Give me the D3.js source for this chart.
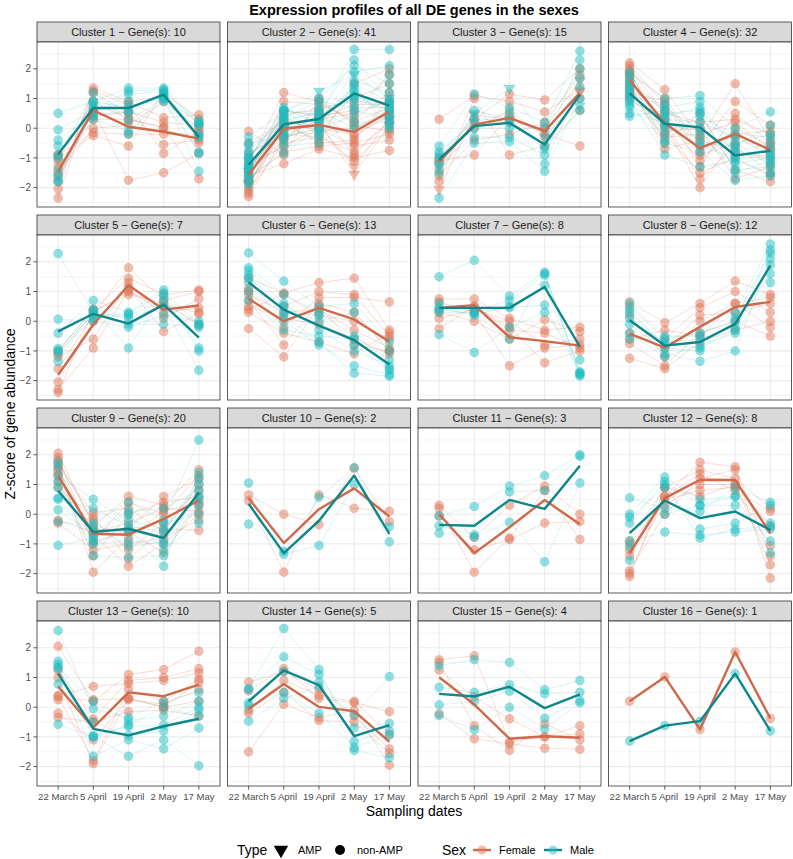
<!DOCTYPE html>
<html>
<head>
<meta charset="utf-8">
<script src="https://cdnjs.cloudflare.com/ajax/libs/d3/7.8.5/d3.min.js"></script>
<style>
  body { margin: 0; background: #fff; }
  text { font-family: "Liberation Sans", Arial, sans-serif; }
</style>
</head>
<body>
<svg id="chart" width="793" height="859"></svg>
<script>
// sampling dates (x categories)
var dates = ["22 March", "5 April", "19 April", "2 May", "17 May"];
var geneCounts = [10, 41, 15, 32, 7, 13, 8, 12, 20, 2, 3, 8, 10, 5, 4, 1];

// thick lines: mean profile per cluster
var femaleMean = [
  [-1.45, 0.6, 0.05, -0.12, -0.35],
  [-1.57, -0.02, 0.11, -0.13, 0.56],
  [-1.13, 0.12, 0.35, -0.1, 1.19],
  [1.62, 0.17, -0.67, -0.19, -0.73],
  [-1.81, -0.11, 1.21, 0.39, 0.53],
  [0.76, 0.0, 0.45, 0.06, -0.69],
  [0.45, 0.54, -0.54, -0.67, -0.82],
  [-0.42, -0.89, -0.19, 0.48, 0.65],
  [1.3, -0.66, -0.69, -0.16, 0.46],
  [0.54, -0.97, 0.17, 0.87, -0.08],
  [0.0, -1.31, -0.44, 0.48, -0.34],
  [-1.31, 0.54, 1.16, 1.15, -0.64],
  [0.7, -0.69, 0.5, 0.37, 0.76],
  [-0.06, 0.78, 0.01, -0.13, -1.17],
  [1.01, 0.09, -1.06, -0.98, -1.03],
  [0.2, 1.02, -0.75, 1.86, -0.38]
];
var maleMean = [
  [-0.88, 0.68, 0.68, 1.13, -0.3],
  [-1.23, 0.13, 0.31, 1.17, 0.76],
  [-1.05, 0.07, 0.18, -0.55, 1.13],
  [1.17, 0.15, 0.03, -0.92, -0.76],
  [-0.34, 0.25, -0.08, 0.56, -0.55],
  [1.31, 0.39, -0.15, -0.64, -1.46],
  [0.45, 0.45, 0.45, 1.15, -0.86],
  [0.03, -0.82, -0.7, -0.09, 1.88],
  [0.79, -0.6, -0.49, -0.8, 0.72],
  [0.35, -1.31, -0.22, 1.3, -0.66],
  [-0.36, -0.39, 0.48, 0.18, 1.63],
  [-0.64, 0.46, -0.13, 0.09, -0.53],
  [1.13, -0.73, -0.95, -0.64, -0.39],
  [0.2, 1.24, 0.74, -0.97, -0.6],
  [0.45, 0.36, 0.69, -0.03, 0.43],
  [-1.14, -0.62, -0.47, 1.13, -0.8]
];

// thin lines: gene profiles per cluster
var femaleGenes = [
  [[-2.35,1.2,0.5,-0.55,-0.4],[-2.05,1.35,0.9,0.35,0.45],[-1.6,0.6,-1.75,-1.5,-0.85],[-1.3,0.3,0.3,0.0,-0.5],
   [-1.1,0.9,0.3,0.05,-1.7],[-1.0,-0.25,-0.6,1.2,0.3],[-0.9,0.4,0.55,0.2,0.1],[-1.8,1.25,0.8,-0.85,-0.1],
   [-1.5,0.0,0.1,0.9,0.0],[-0.9,-0.15,-0.2,-0.2,-0.2]],
  [[-2.3,-0.3,0.0,-0.2,0.4],[-2.2,0.2,0.3,0.5,0.9],[-2.1,-0.5,-0.3,-0.8,0.2],[-2.0,0.5,0.6,1.0,1.5],
   [-1.9,-0.1,0.1,-1.3,0.3],[-1.85,0.0,0.2,-1.55,0.1],[-1.8,0.9,0.8,0.3,1.2],[-1.7,-0.8,-0.6,-0.5,-0.2],
   [-1.65,0.3,-0.1,0.0,0.6],[-1.6,-1.2,-0.7,-1.0,-0.75],[-1.5,0.6,0.4,0.6,1.8],[-1.45,-0.4,0.5,-0.3,0.5],
   [-1.4,0.1,-0.4,1.5,2.0],[-1.3,-0.6,0.0,-0.6,-0.4],[-1.2,1.2,0.9,0.2,0.7],[-1.0,0.4,-0.2,-1.1,0.0],
   [-0.8,-0.3,0.3,0.8,0.8],[-0.5,0.2,-0.5,-0.4,1.0],[-0.1,-0.9,1.0,0.1,-0.1],[-1.1,-0.2,0.6,-0.9,0.3]],
  [[0.3,1.1,0.9,0.55,1.3],[-1.0,0.3,1.15,0.95,2.0],[-1.2,0.2,0.2,0.0,1.6],[-1.4,0.0,0.6,-0.3,1.0],
   [-1.6,-0.4,-0.2,0.2,1.8],[-1.8,1.0,-0.9,-0.6,0.6],[-2.05,0.45,0.3,-0.1,1.25],[-1.1,-0.9,0.4,-0.2,-0.6]],
  [[2.2,1.3,-0.3,1.5,-0.4],[2.1,0.8,-0.9,-0.5,-1.2],[2.0,0.5,0.2,0.3,-0.2],[1.9,-0.2,-1.5,-1.0,-1.6],
   [1.85,1.0,-0.6,0.9,0.1],[1.8,0.1,-2.0,-0.3,-0.9],[1.7,-0.5,0.5,-1.4,-1.8],[1.6,0.3,-1.1,0.0,-0.6],
   [1.5,-0.7,-0.4,-0.8,-1.0],[1.4,0.6,-1.3,0.5,-0.5],[1.3,-0.1,0.0,-1.7,-1.3],[1.2,0.9,-0.8,-0.2,-0.1],
   [1.1,-0.3,-0.2,0.2,-0.7],[1.0,0.2,-1.7,-0.6,-1.5]],
  [[-1.0,0.4,1.45,0.9,1.05],[-1.1,0.3,1.0,0.5,0.3],[-1.2,-0.6,1.3,0.1,0.75],[-1.6,0.2,1.8,0.7,1.0],
   [-2.05,0.0,1.15,-0.35,0.25],[-2.3,-0.9,1.05,0.3,0.45],[-2.4,0.35,0.9,0.6,-0.1]],
  [[1.45,0.95,1.3,1.45,-0.3],[1.1,0.5,1.0,0.9,-0.5],[1.0,-0.2,0.8,0.8,0.65],[0.9,0.3,0.4,-0.3,-0.9],
   [0.7,-0.8,0.6,0.3,-1.0],[0.5,0.1,-0.1,-0.6,-1.1],[0.4,0.9,0.2,0.0,-0.6],[0.3,-0.4,-0.7,-1.1,-0.4],
   [-0.25,-1.2,0.5,-0.8,-1.0]],
  [[0.75,0.75,0.1,-0.3,-0.2],[0.65,0.3,-1.5,-0.9,-0.8],[0.4,0.5,-0.2,-1.4,-1.0],[0.3,0.0,-0.6,0.05,-0.35],
   [0.1,0.4,0.0,-0.8,-0.6],[-0.25,0.5,-0.3,-0.4,-0.9]],
  [[0.65,-0.05,0.6,1.35,0.9],[0.5,-0.6,0.45,1.0,0.3],[0.2,-1.2,0.0,0.6,0.8],[-0.4,-0.9,0.2,0.3,0.6],
   [-0.75,-1.5,-0.4,0.0,-0.5],[-1.25,-1.6,-0.7,-0.3,0.0],[-0.6,-0.3,-0.5,0.6,-0.2]],
  [[2.05,-0.4,0.6,0.3,1.5],[1.9,-1.0,-0.5,0.6,1.2],[1.8,-0.2,-1.2,-0.3,0.8],[1.7,-1.95,-0.8,0.1,0.4],
   [1.6,0.05,0.2,-0.6,1.0],[1.5,-0.7,-1.75,-1.0,0.0],[1.4,-1.4,0.0,0.4,0.6],[1.3,-0.5,-0.6,-1.3,0.3],
   [1.1,-0.9,0.4,0.0,1.3],[0.9,-0.1,-1.5,-0.5,-0.55],[-0.2,-0.6,-0.3,0.2,0.1],[-0.3,-1.2,-1.0,-0.8,-0.2]],
  [[0.65,0.0,-0.35,1.55,-0.25],[0.45,-1.95,0.65,0.2,0.1]],
  [[0.3,-0.78,0.3,0.95,0.0],[0.2,-1.95,-0.8,0.8,-0.85],[-0.05,-1.2,-0.85,-0.3,-0.25]],
  [[-0.9,0.9,1.5,1.2,0.2],[-1.0,0.5,0.8,0.9,-1.05],[-1.2,0.6,1.75,1.6,-1.4],[-1.4,0.3,1.0,1.0,-0.4],
   [-1.9,0.0,1.2,1.5,-2.15],[-2.0,0.6,1.35,0.8,0.1],[-2.1,0.9,0.6,1.0,-1.7]],
  [[2.05,0.2,1.1,1.27,1.88],[1.25,-0.4,0.9,1.0,1.3],[0.4,0.7,0.8,0.9,1.15],[0.35,-1.8,0.6,0.2,0.95],
   [0.25,0.25,0.3,0.0,0.85],[-0.2,-1.1,0.25,0.1,0.6],[-0.35,-0.5,-0.15,-0.1,-0.3],[1.0,-1.9,0.3,0.0,0.2]],
  [[0.85,1.2,0.6,-0.3,-1.4],[0.55,1.3,0.3,0.15,-0.15],[-0.2,0.5,-0.45,-0.5,-1.55],[-0.1,0.9,0.4,0.2,-0.9],
   [-1.5,0.1,-0.35,-0.1,-1.95]],
  [[1.6,1.73,-1.17,-1.0,-0.62],[1.51,-0.62,-1.45,-0.56,-1.1],[1.25,0.35,-0.39,-1.0,-0.9],[-0.22,-1.06,-1.23,-1.38,-1.42]],
  [[0.2,1.02,-0.75,1.86,-0.38]]
];
var maleGenes = [
  [[0.5,0.9,1.35,1.35,0.25],[-0.05,0.6,1.25,1.3,0.15],[-0.4,0.5,1.15,1.25,0.1],[-0.6,0.4,0.6,1.2,-0.2],
   [-0.9,0.7,0.5,1.1,-0.3],[-1.0,1.2,0.25,1.0,-0.3],[-1.4,0.3,-0.1,0.9,-0.8],[-1.6,0.8,-0.2,1.15,-0.85],
   [-1.75,0.55,0.9,1.05,-1.45],[-1.8,0.9,0.7,1.0,0.2]],
  [[-1.9,0.1,0.4,2.65,2.65],[-1.8,-0.4,0.2,1.9,2.1],[-1.7,0.6,1.0,2.1,1.5],[-1.6,-0.85,0.0,1.5,0.9],
   [-1.5,0.3,0.5,1.0,0.6],[-1.45,0.5,1.25,1.8,1.0],[-1.4,-0.2,-0.3,0.6,0.3],[-1.3,0.0,0.3,1.3,0.0],
   [-1.25,0.4,0.7,0.9,0.8],[-1.2,-0.6,-0.5,0.2,0.2],[-1.1,0.7,0.1,1.6,1.2],[-1.0,0.2,0.6,0.0,0.5],
   [-0.9,-0.1,-0.2,1.2,0.4],[-0.8,0.35,0.9,0.7,0.7],[-0.6,0.1,0.3,1.4,0.1],[-0.5,-0.3,0.0,0.4,1.8],
   [-0.3,0.55,-0.1,1.1,0.6],[-1.0,0.6,0.45,2.3,0.9]],
  [[-0.6,1.15,0.7,0.2,2.6],[-0.8,0.2,0.5,-0.6,2.3],[-1.0,0.0,0.0,0.0,2.0],[-1.2,-0.3,-0.3,-0.9,1.7],
   [-1.3,0.5,1.35,-0.3,0.75],[-1.5,0.6,0.3,-1.2,1.4],[-2.35,-0.5,-0.45,-1.45,1.0],[-0.9,0.35,0.2,-0.7,0.6]],
  [[1.9,1.0,1.1,0.0,0.55],[1.75,0.5,0.6,-0.5,-0.2],[1.6,0.0,-0.3,-1.2,-1.0],[1.5,0.7,0.9,-0.8,-0.5],
   [1.4,-0.5,-0.8,-1.75,-1.6],[1.3,0.3,0.2,-0.3,-0.8],[1.2,-0.2,0.5,-1.4,-1.3],[1.1,0.8,-0.5,-0.6,0.1],
   [1.0,-0.9,-1.3,-1.1,-1.5],[0.9,0.4,0.7,-0.9,-0.7],[0.8,0.1,-0.1,-1.5,-1.1],[0.7,-0.4,0.4,-0.2,-0.3],
   [0.5,0.2,-0.6,-1.0,-0.9],[0.4,0.6,0.0,-0.7,-1.2]],
  [[2.28,0.3,0.1,0.5,-1.65],[0.07,0.0,-0.2,0.2,0.0],[-0.4,0.7,0.3,1.05,-0.9],[-0.92,0.2,0.25,0.95,-0.1],
   [-1.0,0.4,-0.9,0.85,-1.0],[-1.05,0.1,0.2,0.7,-0.15],[-1.35,0.35,-0.1,-0.1,-0.2]],
  [[2.3,1.35,0.5,0.6,-0.7],[1.8,0.9,0.3,-0.5,-1.3],[1.7,0.6,-0.3,-1.0,-1.5],[1.55,0.2,-0.7,-1.75,-1.85],
   [1.45,0.5,0.0,0.3,-1.0],[1.3,0.0,-0.8,-1.5,-1.8],[1.0,0.3,0.2,-0.8,-1.65],[0.7,-0.3,-0.5,-0.6,-1.6]],
  [[1.5,2.05,0.85,1.65,-1.7],[0.6,0.35,0.7,1.55,-1.8],[0.45,0.2,0.5,1.2,-1.85],[0.3,0.3,0.45,0.55,-1.75],
   [-0.45,-1.05,-0.2,0.3,-1.3],[0.4,0.25,-0.6,1.6,-1.75]],
  [[0.6,-0.5,-0.5,0.3,2.6],[0.4,-0.9,-1.0,0.1,2.3],[0.1,-0.7,-0.6,-0.2,1.6],[-0.1,-1.1,-1.35,-1.0,2.1],
   [-0.4,-1.2,-0.8,-0.4,1.3],[-0.6,-0.6,-0.4,0.0,1.9],[0.3,-0.8,-0.9,-0.3,2.4]],
  [[1.75,-0.3,0.4,-0.2,2.5],[1.6,-0.9,-0.6,-1.75,1.4],[1.3,0.5,-0.2,-0.5,1.0],[1.1,-1.4,-1.45,-1.4,0.5],
   [0.9,-0.6,0.1,0.2,0.8],[0.55,-1.0,-0.9,-1.0,0.3],[0.5,0.2,-0.4,-0.6,1.2],[0.15,-0.7,0.0,-1.2,-0.3],
   [-0.25,-0.4,-1.1,-0.9,0.6],[-1.05,-0.8,-0.5,-0.3,0.0]],
  [[1.05,-1.35,-1.05,1.0,-0.42],[-0.33,-1.25,0.57,1.57,-0.93]],
  [[-0.06,0.26,0.95,1.3,2.0],[-0.39,-0.69,0.75,0.8,1.95],[-0.64,-0.77,-0.27,-1.6,1.05]],
  [[0.55,0.2,0.1,0.9,0.4],[0.0,1.25,0.5,0.6,-0.3],[-0.1,0.9,-0.5,-0.3,0.3],[-0.3,1.1,0.3,0.3,-0.9],
   [-0.9,-0.6,-0.7,-0.6,-0.5],[-1.1,0.0,0.3,0.6,-1.3],[-1.55,1.0,-0.8,-0.5,-0.4]],
  [[2.58,-0.05,-0.35,0.2,0.5],[1.55,-0.95,-0.65,-0.6,0.0],[1.45,-1.65,-1.1,-1.4,-0.7],[1.35,0.2,-0.45,-0.3,0.2],
   [1.3,-1.0,-1.65,-1.1,-1.97],[0.78,-0.5,-0.95,-0.8,-0.1],[-0.58,-1.0,-0.6,0.0,-0.3]],
  [[0.62,2.65,1.27,-1.15,-0.8],[0.6,1.7,1.1,-0.7,-0.55],[0.15,1.2,0.85,-1.45,-1.7],[0.05,0.5,-0.2,-1.35,-0.95],
   [-0.47,0.3,0.7,-0.25,1.03]],
  [[1.4,1.6,1.51,0.59,0.9],[0.67,0.5,0.76,0.45,0.5],[0.08,0.19,0.54,-0.37,0.22],[-0.28,-0.76,0.0,-0.73,0.15]],
  [[-1.14,-0.62,-0.47,1.13,-0.8]]
];

// gene indexes (within each cluster) that are AMPs
var ampFemale = [[], [4, 5], [2, 6], [], [], [], [], [], [], [], [], [], [], [], [], []];
var ampMale = [[], [5], [4], [], [], [], [], [], [], [], [], [], [], [], [], []];

var yTicks = [-2, -1, 0, 1, 2];
var yMinor = [-2.5, -1.5, -0.5, 0.5, 1.5, 2.5];

var col = {
  femaleLine: "#CE6A4B", maleLine: "#0E878B",
  femalePt: "#E07556", malePt: "#1EBEC2"
};

var svg = d3.select("#chart");
var left = 37, top0 = 22, pw = 183, ph = 165, stripH = 20, gapX = 7.5, gapY = 8;

// common scales, y expanded by 5% like ggplot
var allVals = d3.merge([d3.merge(femaleGenes), d3.merge(maleGenes), femaleMean, maleMean]);
var ext = d3.extent(d3.merge(allVals));
var pad = (ext[1] - ext[0]) * 0.05;
var x = d3.scalePoint().domain(dates).range([0, pw]).padding(0.6);
var y = d3.scaleLinear().domain([ext[0] - pad, ext[1] + pad]).range([ph, 0]);

var line = d3.line().x(function(d, i) { return x(dates[i]); }).y(function(d) { return y(d); });
var tri = d3.symbol().type(d3.symbolTriangle).size(52);

function fmt(v) { return v < 0 ? "\u2212" + Math.abs(v) : "" + v; }

geneCounts.forEach(function(n, k) {
  var r = Math.floor(k / 4), c = k % 4;
  var g = svg.append("g")
    .attr("transform", "translate(" + (left + c * (pw + gapX)) + "," + (top0 + r * (stripH + ph + gapY)) + ")");

  // strip
  g.append("rect").attr("width", pw).attr("height", stripH)
    .attr("fill", "#D9D9D9").attr("stroke", "#333333").attr("stroke-width", 0.8);
  g.append("text").attr("x", pw / 2).attr("y", stripH / 2 + 3.9)
    .attr("text-anchor", "middle").style("font-size", "11px").attr("fill", "#1A1A1A")
    .text("Cluster " + (k + 1) + " \u2212 Gene(s): " + n);

  var p = g.append("g").attr("transform", "translate(0," + stripH + ")");
  p.append("rect").attr("width", pw).attr("height", ph).attr("fill", "#fff");
  p.append("clipPath").attr("id", "clip" + k).append("rect").attr("width", pw).attr("height", ph);

  p.selectAll(".minor").data(yMinor).enter().append("line")
    .attr("x1", 0).attr("x2", pw).attr("y1", y).attr("y2", y)
    .attr("stroke", "#EBEBEB").attr("stroke-width", 0.55);
  p.selectAll(".major").data(yTicks).enter().append("line")
    .attr("x1", 0).attr("x2", pw).attr("y1", y).attr("y2", y)
    .attr("stroke", "#EBEBEB").attr("stroke-width", 1.1);
  p.selectAll(".vmaj").data(dates).enter().append("line")
    .attr("y1", 0).attr("y2", ph).attr("x1", x).attr("x2", x)
    .attr("stroke", "#EBEBEB").attr("stroke-width", 1.1);

  var body = p.append("g").attr("clip-path", "url(#clip" + k + ")");

  // thin gene lines
  body.selectAll(".fl").data(femaleGenes[k]).enter().append("path")
    .attr("d", line).attr("fill", "none").attr("stroke", col.femalePt)
    .attr("stroke-opacity", 0.35).attr("stroke-width", 0.7);
  body.selectAll(".ml").data(maleGenes[k]).enter().append("path")
    .attr("d", line).attr("fill", "none").attr("stroke", col.malePt)
    .attr("stroke-opacity", 0.25).attr("stroke-width", 0.7);

  // points
  function pts(genes, amp, color) {
    genes.forEach(function(gv, gi) {
      var isAmp = amp.indexOf(gi) >= 0;
      gv.forEach(function(v, j) {
        var el;
        if (isAmp) {
          el = body.append("path").attr("d", tri)
            .attr("transform", "translate(" + x(dates[j]) + "," + y(v) + ") rotate(180)");
        } else {
          el = body.append("circle").attr("cx", x(dates[j])).attr("cy", y(v)).attr("r", 4.5);
        }
        el.attr("fill", color).attr("fill-opacity", 0.48)
          .attr("stroke", color).attr("stroke-opacity", 0.35).attr("stroke-width", 0.6);
      });
    });
  }
  pts(femaleGenes[k], ampFemale[k], col.femalePt);
  pts(maleGenes[k], ampMale[k], col.malePt);

  // mean lines
  body.append("path").datum(femaleMean[k]).attr("d", line).attr("fill", "none")
    .attr("stroke", col.femaleLine).attr("stroke-width", 2.4).attr("stroke-linejoin", "round");
  body.append("path").datum(maleMean[k]).attr("d", line).attr("fill", "none")
    .attr("stroke", col.maleLine).attr("stroke-width", 2.4).attr("stroke-linejoin", "round");

  p.append("rect").attr("width", pw).attr("height", ph)
    .attr("fill", "none").attr("stroke", "#333333").attr("stroke-width", 0.8);

  // axes on outer panels
  if (c === 0) {
    var ya = p.append("g");
    yTicks.forEach(function(t) {
      ya.append("line").attr("x1", -3.7).attr("x2", 0).attr("y1", y(t)).attr("y2", y(t))
        .attr("stroke", "#333333").attr("stroke-width", 0.8);
      ya.append("text").attr("x", -6).attr("y", y(t) + 3.6).attr("text-anchor", "end")
        .style("font-size", "10px").attr("fill", "#4D4D4D").text(fmt(t));
    });
  }
  if (r === 3) {
    var xa = p.append("g").attr("transform", "translate(0," + ph + ")");
    dates.forEach(function(d) {
      xa.append("line").attr("x1", x(d)).attr("x2", x(d)).attr("y1", 0).attr("y2", 3.7)
        .attr("stroke", "#333333").attr("stroke-width", 0.8);
      xa.append("text").attr("x", x(d)).attr("y", 14).attr("text-anchor", "middle")
        .style("font-size", "9.6px").attr("fill", "#4D4D4D").text(d);
    });
  }
});

// titles
svg.append("text").attr("x", 414).attr("y", 15).attr("text-anchor", "middle")
  .style("font-size", "14.5px").style("font-weight", "bold").text("Expression profiles of all DE genes in the sexes");
svg.append("text").attr("x", 414).attr("y", 816).attr("text-anchor", "middle")
  .style("font-size", "14px").text("Sampling dates");
svg.append("text").attr("transform", "translate(14.5,414) rotate(-90)").attr("text-anchor", "middle")
  .style("font-size", "14px").text("Z-score of gene abundance");

// legend
var ly = 850;
var lg = svg.append("g");
lg.append("text").attr("x", 237).attr("y", ly + 5).style("font-size", "14px").text("Type");
lg.append("path").attr("d", d3.symbol().type(d3.symbolTriangle).size(90))
  .attr("transform", "translate(281," + ly + ") rotate(180)").attr("fill", "#000");
lg.append("text").attr("x", 298).attr("y", ly + 4).style("font-size", "11px").text("AMP");
lg.append("circle").attr("cx", 340).attr("cy", ly).attr("r", 5).attr("fill", "#000");
lg.append("text").attr("x", 357).attr("y", ly + 4).style("font-size", "11px").text("non-AMP");

lg.append("text").attr("x", 442).attr("y", ly + 5).style("font-size", "14px").text("Sex");
[["Female", 473, 499, col.femaleLine, col.femalePt], ["Male", 544, 570, col.maleLine, col.malePt]].forEach(function(s) {
  lg.append("line").attr("x1", s[1]).attr("x2", s[1] + 18).attr("y1", ly).attr("y2", ly)
    .attr("stroke", s[3]).attr("stroke-width", 2.4);
  lg.append("circle").attr("cx", s[1] + 9).attr("cy", ly).attr("r", 4.5)
    .attr("fill", s[4]).attr("fill-opacity", 0.48);
  lg.append("text").attr("x", s[2]).attr("y", ly + 4).style("font-size", "11px").text(s[0]);
});
</script>
</body>
</html>
